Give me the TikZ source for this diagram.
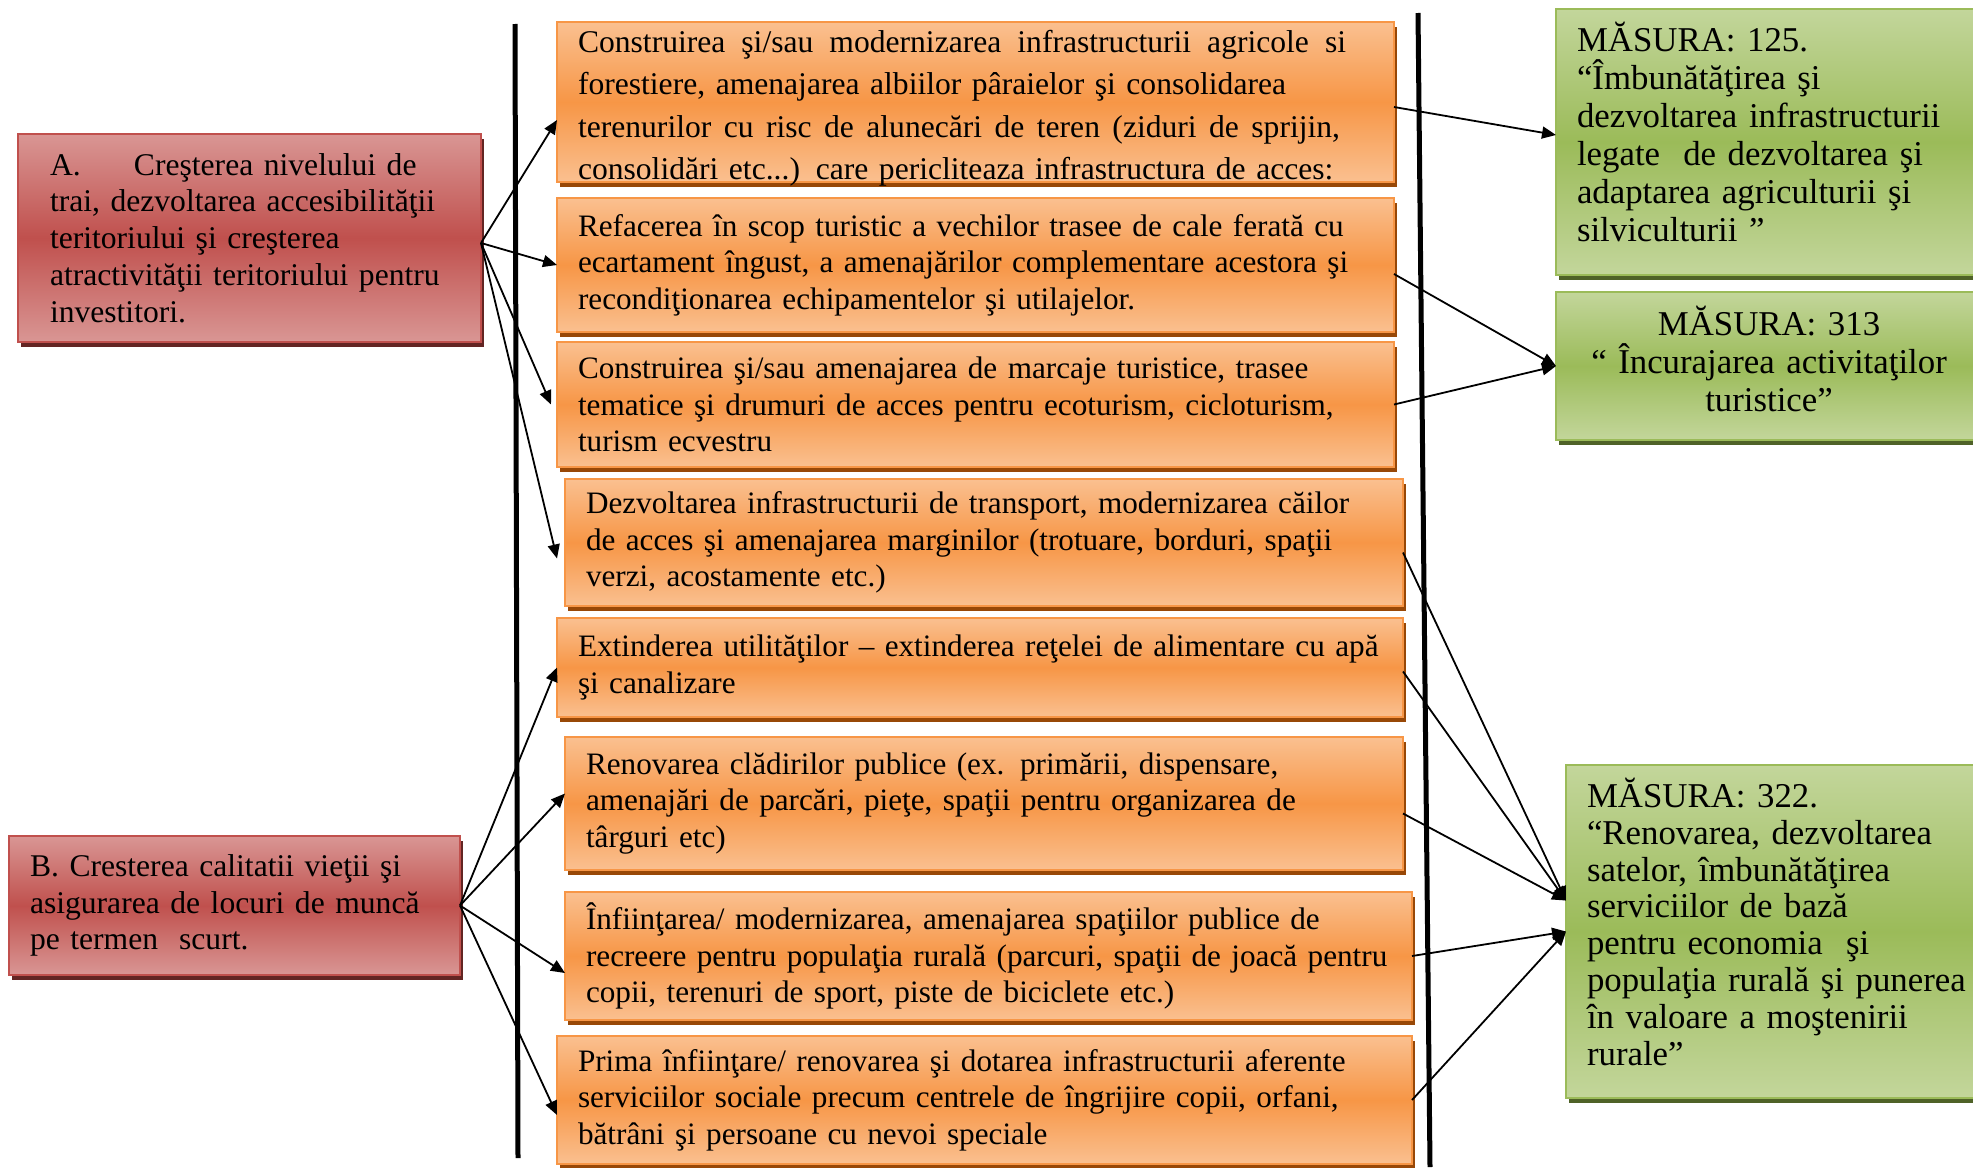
\documentclass[tikz,border=0pt]{standalone}
\usepackage{fontspec}
\setmainfont{Liberation Serif}
\usetikzlibrary{arrows.meta, positioning, shadows}
\definecolor{orangeMid}{HTML}{F79646}
\definecolor{orangeLight}{HTML}{FAC090}
\definecolor{orangeShade}{HTML}{984807}
\definecolor{redMid}{HTML}{C0504D}
\definecolor{redLight}{HTML}{D99694}
\definecolor{redShade}{HTML}{632523}
\definecolor{greenMid}{HTML}{9BBB59}
\definecolor{greenLight}{HTML}{C3D69B}
\definecolor{greenShade}{HTML}{4F6228}
\newcommand*{\spreadline}[2]{\makebox[#1][s]{\spaceskip=.25em plus 1fil\relax #2}}
\newcommand*{\lowpad}[1]{\rule[-#1]{0pt}{#1}}

\begin{document}
\begin{tikzpicture}[x=0.5pt,y=-0.5pt,>={Triangle[length=7pt,width=6pt]},
      every node/.style={outer sep=0pt},
      panel/.style={rectangle, line width=0.8pt, anchor=north west, align=left, inner ysep=0pt, inner xsep=10.5pt},
      goal/.style={panel, draw=redMid, top color=redLight, bottom color=redLight, middle color=redMid,
        drop shadow={shadow xshift=1.5pt, shadow yshift=-2.5pt, fill=redShade, opacity=1},
        font=\fontsize{15.8}{18.4}\selectfont},
      action/.style={panel, draw=orangeMid, top color=orangeLight, bottom color=orangeLight, middle color=orangeMid,
        drop shadow={shadow xshift=1.5pt, shadow yshift=-2.5pt, fill=orangeShade, opacity=1},
        font=\fontsize{15.6}{18.3}\selectfont},
      measure/.style={panel, draw=greenMid, top color=greenLight, bottom color=greenLight, middle color=greenMid,
        drop shadow={shadow xshift=1.5pt, shadow yshift=-2.5pt, fill=greenShade, opacity=1},
        font=\fontsize{17.4}{19}\selectfont},
      boxsize/.style n args={3}{minimum width=#1, text width=#2, minimum height=#3},
      link/.style={->, line width=0.9pt},
      divider/.style={line width=2.5pt}]
      \clip (0,0) rectangle (1973,1167);

      % objectives
      \node[goal, boxsize={231.5pt}{199.5pt}{104pt}, inner xsep=16pt] (goalA) at (18,134)
        {\makebox[42pt][l]{A.}Creşterea nivelului de\\trai, dezvoltarea accesibilităţii\\teritoriului şi creşterea\\atractivităţii teritoriului pentru\\investitori.};
      \node[goal, boxsize={225.5pt}{204.5pt}{69.5pt}] (goalB) at (9,836)
        {B. Cresterea calitatii vieţii şi\\asigurarea de locuri de muncă\\pe termen\ \ scurt.};

      % actions
      \node[action, boxsize={418.5pt}{397.5pt}{80pt}, font=\fontsize{15.8}{21.3}\selectfont, text depth=61pt] (act1) at (557,22)
        {\spreadline{384pt}{Construirea şi/sau modernizarea infrastructurii agricole si}\\forestiere, amenajarea albiilor pâraielor şi consolidarea\\\spreadline{381pt}{terenurilor cu risc de alunecări de teren (ziduri de sprijin,}\\consolidări etc...) care pericliteaza infrastructura de acces:};
      \node[action, boxsize={418.5pt}{397.5pt}{67pt}] (act2) [below right=8pt and 0pt of act1.south west]
        {Refacerea în scop turistic a vechilor trasee de cale ferată cu\\ecartament îngust, a amenajărilor complementare acestora şi\\recondiţionarea echipamentelor şi utilajelor.};
      \node[action, boxsize={418.5pt}{397.5pt}{62.5pt}] (act3) [below right=5pt and 0pt of act2.south west]
        {Construirea şi/sau amenajarea de marcaje turistice, trasee\\tematice şi drumuri de acces pentru ecoturism, cicloturism,\\turism ecvestru};
      \node[action, boxsize={419pt}{398pt}{63.5pt}] (act4) [below right=6pt and 4pt of act3.south west]
        {Dezvoltarea infrastructurii de transport, modernizarea căilor\\de acces şi amenajarea marginilor (trotuare, borduri, spaţii\\verzi, acostamente etc.)};
      \node[action, boxsize={423pt}{402pt}{49.5pt}] (act5) [below right=6pt and -4pt of act4.south west]
        {\mbox{Extinderea utilităţilor – extinderea reţelei de alimentare cu apă}\\şi canalizare};
      \node[action, boxsize={419pt}{398pt}{66.5pt}] (act6) [below right=10pt and 4pt of act5.south west]
        {Renovarea clădirilor publice (ex. primării, dispensare,\\amenajări de parcări, pieţe, spaţii pentru organizarea de\\târguri etc)};
      \node[action, boxsize={423.5pt}{402.5pt}{64pt}] (act7) [below right=11pt and 0pt of act6.south west]
        {Înfiinţarea/ modernizarea, amenajarea spaţiilor publice de\\\mbox{recreere pentru populaţia rurală (parcuri, spaţii de joacă pentru}\\copii, terenuri de sport, piste de biciclete etc.)};
      \node[action, boxsize={427.5pt}{406.5pt}{64pt}] (act8) [below right=8pt and -4pt of act7.south west]
        {Prima înfiinţare/ renovarea şi dotarea infrastructurii aferente\\serviciilor sociale precum centrele de îngrijire copii, orfani,\\bătrâni şi persoane cu nevoi speciale};

      % measures
      \node[measure, boxsize={213pt}{192pt}{133pt}] (meas1) at (1556,9)
        {MĂSURA: 125.\\“Îmbunătăţirea şi\\dezvoltarea infrastructurii\\legate\ \ de dezvoltarea şi\\adaptarea agriculturii şi\\silviculturii ”\lowpad{10pt}};
      \node[measure, boxsize={213pt}{192pt}{74pt}, align=center] (meas2) [below right=8.5pt and 0pt of meas1.south west]
        {MĂSURA: 313\\“ Încurajarea activitaţilor\\turistice”\lowpad{7.5pt}};
      \node[measure, boxsize={213pt}{192pt}{166.5pt}, font=\fontsize{17.4}{18.4}\selectfont] (meas3) at (1566,765)
        {MĂSURA: 322.\\“Renovarea, dezvoltarea\\satelor, îmbunătăţirea\\serviciilor de bază\\pentru economia\ \ şi\\populaţia rurală şi punerea\\în valoare a moştenirii\\rurale”\lowpad{10pt}};

      % dividers
      \coordinate (d1top) at (515,24);
      \coordinate (d1bot) at (518,1158);
      \coordinate (d2top) at (1418,13);
      \coordinate (d2bot) at (1430,1167);
      \draw[divider] (d1top) -- (d1bot);
      \draw[divider] (d2top) -- (d2bot);

      \coordinate (fromA) at ([yshift=-2.5pt]goalA.east);
      \coordinate (into3) at ([yshift=15.5pt]meas3.west);
      \draw[link] (fromA) -- ([yshift=-9pt]act1.west);
      \draw[link] (fromA) -- (act2.west);
      \draw[link] (fromA) -- ([xshift=-3pt]act3.west);
      \draw[link] (fromA) -- ([xshift=-4pt,yshift=-8pt]act4.west);
      \draw[link] (goalB.east) -- (act5.west);
      \draw[link] (goalB.east) -- ([yshift=5pt]act6.west);
      \draw[link] (goalB.east) -- ([yshift=-8.5pt]act7.west);
      \draw[link] (goalB.east) -- ([yshift=-7.5pt]act8.west);
      \draw[link] ([yshift=-2.5pt]act1.east) -- ([yshift=3.5pt]meas1.west);
      \draw[link] ([yshift=-4.5pt]act2.east) -- (meas2.west);
      \draw[link] (act3.east) -- (meas2.west);
      \draw[link] ([yshift=-5pt]act4.east) -- (into3);
      \draw[link] ([yshift=-2pt]act5.east) -- (into3);
      \draw[link] ([yshift=-5pt]act6.east) -- (into3);
      \draw[link] (act7.east) -- (meas3.west);
      \draw[link] (act8.east) -- (meas3.west);
\end{tikzpicture}
\end{document}
